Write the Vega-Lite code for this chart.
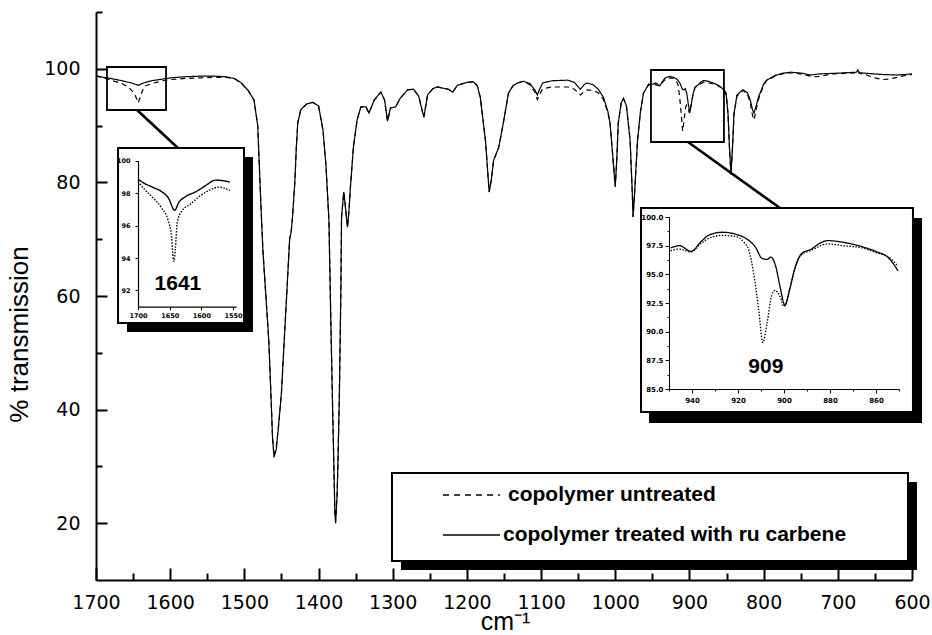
{
"$schema": "https://vega.github.io/schema/vega-lite/v6.json",
"width": 816, "height": 568,
"autosize": {"type": "none"},
"padding": {"left": 96, "top": 12, "right": 20, "bottom": 55},
"background": "white",
"config": {
  "view": {"stroke": null},
  "axis": {"domainColor": "black", "tickColor": "black", "labelColor": "black", "titleColor": "black", "grid": false, "labelOverlap": false, "labelFlush": false, "titleFontWeight": "normal"}
},
"datasets": {
"main": [
{"series":"treated","wn":1700,"T":98.7},{"series":"treated","wn":1690,"T":98.5},{"series":"treated","wn":1680,"T":98.3},{"series":"treated","wn":1665,"T":97.9},{"series":"treated","wn":1652,"T":97.5},{"series":"treated","wn":1643,"T":97.1},{"series":"treated","wn":1636,"T":97.5},{"series":"treated","wn":1625,"T":97.9},{"series":"treated","wn":1610,"T":98.2},{"series":"treated","wn":1600,"T":98.4},{"series":"treated","wn":1580,"T":98.6},{"series":"treated","wn":1560,"T":98.7},{"series":"treated","wn":1540,"T":98.7},{"series":"treated","wn":1525,"T":98.6},{"series":"treated","wn":1514,"T":98.3},{"series":"treated","wn":1505,"T":97.6},{"series":"treated","wn":1495,"T":96.2},{"series":"treated","wn":1487,"T":94.5},{"series":"treated","wn":1482,"T":90},{"series":"treated","wn":1478,"T":77},{"series":"treated","wn":1475,"T":68},{"series":"treated","wn":1470,"T":58},{"series":"treated","wn":1467,"T":52},{"series":"treated","wn":1464,"T":42},{"series":"treated","wn":1462,"T":35},{"series":"treated","wn":1460,"T":31.6},{"series":"treated","wn":1457,"T":33},{"series":"treated","wn":1454,"T":37},{"series":"treated","wn":1450,"T":43},{"series":"treated","wn":1447,"T":50.4},{"series":"treated","wn":1443,"T":60},{"series":"treated","wn":1441,"T":65},{"series":"treated","wn":1439,"T":70},{"series":"treated","wn":1437,"T":71.2},{"series":"treated","wn":1435,"T":74},{"series":"treated","wn":1432,"T":80},{"series":"treated","wn":1430,"T":86},{"series":"treated","wn":1428,"T":90.5},{"series":"treated","wn":1424,"T":92.8},{"series":"treated","wn":1416,"T":93.8},{"series":"treated","wn":1408,"T":94.1},{"series":"treated","wn":1400,"T":93.5},{"series":"treated","wn":1394,"T":89.2},{"series":"treated","wn":1390,"T":83},{"series":"treated","wn":1386,"T":73.3},{"series":"treated","wn":1384,"T":59.3},{"series":"treated","wn":1381,"T":40},{"series":"treated","wn":1378,"T":22},{"series":"treated","wn":1377,"T":20},{"series":"treated","wn":1375,"T":25},{"series":"treated","wn":1374,"T":29.8},{"series":"treated","wn":1372,"T":42},{"series":"treated","wn":1370,"T":60},{"series":"treated","wn":1369,"T":73.9},{"series":"treated","wn":1366,"T":78.3},{"series":"treated","wn":1364,"T":76},{"series":"treated","wn":1361,"T":72.1},{"series":"treated","wn":1359,"T":75},{"series":"treated","wn":1357,"T":79.2},{"series":"treated","wn":1353,"T":86.2},{"series":"treated","wn":1348,"T":91},{"series":"treated","wn":1343,"T":93.3},{"series":"treated","wn":1336,"T":93.3},{"series":"treated","wn":1332,"T":92.2},{"series":"treated","wn":1325,"T":94.5},{"series":"treated","wn":1316,"T":95.9},{"series":"treated","wn":1311,"T":94.5},{"series":"treated","wn":1307,"T":90.8},{"series":"treated","wn":1303,"T":93.1},{"series":"treated","wn":1296,"T":93.3},{"series":"treated","wn":1290,"T":94.8},{"series":"treated","wn":1280,"T":96.3},{"series":"treated","wn":1272,"T":96.4},{"series":"treated","wn":1265,"T":95.2},{"series":"treated","wn":1261,"T":93},{"series":"treated","wn":1258,"T":91.5},{"series":"treated","wn":1253,"T":95.4},{"series":"treated","wn":1246,"T":96.5},{"series":"treated","wn":1240,"T":96.8},{"series":"treated","wn":1225,"T":96.4},{"series":"treated","wn":1219,"T":95.9},{"series":"treated","wn":1213,"T":97.1},{"series":"treated","wn":1200,"T":97.6},{"series":"treated","wn":1191,"T":97.7},{"series":"treated","wn":1186,"T":97},{"series":"treated","wn":1182,"T":95},{"series":"treated","wn":1175,"T":87.4},{"series":"treated","wn":1172,"T":82},{"series":"treated","wn":1170,"T":78.3},{"series":"treated","wn":1167,"T":80.5},{"series":"treated","wn":1164,"T":83.9},{"series":"treated","wn":1157,"T":86.2},{"series":"treated","wn":1151,"T":90.4},{"series":"treated","wn":1144,"T":95.7},{"series":"treated","wn":1138,"T":97},{"series":"treated","wn":1132,"T":97.5},{"series":"treated","wn":1124,"T":97.8},{"series":"treated","wn":1115,"T":97.4},{"series":"treated","wn":1108,"T":96.2},{"series":"treated","wn":1105,"T":95.4},{"series":"treated","wn":1102,"T":96.4},{"series":"treated","wn":1098,"T":97.5},{"series":"treated","wn":1085,"T":97.9},{"series":"treated","wn":1064,"T":98},{"series":"treated","wn":1055,"T":97.6},{"series":"treated","wn":1047,"T":96.4},{"series":"treated","wn":1042,"T":97.2},{"series":"treated","wn":1038,"T":97.5},{"series":"treated","wn":1030,"T":97.2},{"series":"treated","wn":1023,"T":96.4},{"series":"treated","wn":1016,"T":95},{"series":"treated","wn":1010,"T":92.5},{"series":"treated","wn":1007,"T":90.4},{"series":"treated","wn":1003,"T":84},{"series":"treated","wn":1000,"T":79.2},{"series":"treated","wn":998,"T":84},{"series":"treated","wn":996,"T":90.4},{"series":"treated","wn":992,"T":94},{"series":"treated","wn":989,"T":94.8},{"series":"treated","wn":985,"T":93.5},{"series":"treated","wn":980,"T":87.4},{"series":"treated","wn":977,"T":78},{"series":"treated","wn":976,"T":73.9},{"series":"treated","wn":974,"T":78},{"series":"treated","wn":970,"T":87.4},{"series":"treated","wn":966,"T":92.5},{"series":"treated","wn":962,"T":95.7},{"series":"treated","wn":955,"T":97.3},{"series":"treated","wn":949,"T":97.3},{"series":"treated","wn":945.5,"T":97.5},{"series":"treated","wn":940,"T":97},{"series":"treated","wn":936,"T":97.85},{"series":"treated","wn":932.6,"T":98.43},{"series":"treated","wn":926.8,"T":98.67},{"series":"treated","wn":921,"T":98.5},{"series":"treated","wn":916,"T":98.06},{"series":"treated","wn":912.5,"T":97.4},{"series":"treated","wn":909.6,"T":96.4},{"series":"treated","wn":907.4,"T":96.3},{"series":"treated","wn":905.7,"T":96.5},{"series":"treated","wn":903.6,"T":95.7},{"series":"treated","wn":901.7,"T":93.9},{"series":"treated","wn":899.6,"T":92.3},{"series":"treated","wn":897.4,"T":93.8},{"series":"treated","wn":895.3,"T":95.5},{"series":"treated","wn":892.4,"T":96.8},{"series":"treated","wn":888,"T":97.2},{"series":"treated","wn":884.5,"T":97.7},{"series":"treated","wn":881,"T":97.94},{"series":"treated","wn":874.5,"T":97.8},{"series":"treated","wn":866,"T":97.4},{"series":"treated","wn":860,"T":97},{"series":"treated","wn":854.4,"T":96.4},{"series":"treated","wn":850.4,"T":95.3},{"series":"treated","wn":848,"T":92},{"series":"treated","wn":846,"T":86},{"series":"treated","wn":844,"T":81.6},{"series":"treated","wn":842,"T":86},{"series":"treated","wn":840,"T":92},{"series":"treated","wn":836,"T":95.4},{"series":"treated","wn":828,"T":96.3},{"series":"treated","wn":822,"T":95.8},{"series":"treated","wn":818,"T":94.5},{"series":"treated","wn":815,"T":92.8},{"series":"treated","wn":813,"T":92.2},{"series":"treated","wn":810,"T":93.5},{"series":"treated","wn":807,"T":95},{"series":"treated","wn":800,"T":97.3},{"series":"treated","wn":796,"T":98},{"series":"treated","wn":785,"T":98.8},{"series":"treated","wn":775,"T":99.2},{"series":"treated","wn":764,"T":99.4},{"series":"treated","wn":755,"T":99.3},{"series":"treated","wn":747,"T":99.2},{"series":"treated","wn":737,"T":98.9},{"series":"treated","wn":725,"T":99.1},{"series":"treated","wn":706,"T":99.2},{"series":"treated","wn":690,"T":99.3},{"series":"treated","wn":675,"T":99.4},{"series":"treated","wn":673,"T":99.8},{"series":"treated","wn":671,"T":99.3},{"series":"treated","wn":661,"T":99.2},{"series":"treated","wn":640,"T":99},{"series":"treated","wn":620,"T":98.9},{"series":"treated","wn":600,"T":99.1},
{"series":"untreated","wn":1700,"T":98.8},{"series":"untreated","wn":1690,"T":98.4},{"series":"untreated","wn":1680,"T":98},{"series":"untreated","wn":1665,"T":97.4},{"series":"untreated","wn":1655,"T":96.6},{"series":"untreated","wn":1648,"T":95.6},{"series":"untreated","wn":1643,"T":94},{"series":"untreated","wn":1639,"T":95.6},{"series":"untreated","wn":1635,"T":96.9},{"series":"untreated","wn":1625,"T":97.4},{"series":"untreated","wn":1610,"T":97.9},{"series":"untreated","wn":1600,"T":98.1},{"series":"untreated","wn":1580,"T":98.3},{"series":"untreated","wn":1560,"T":98.4},{"series":"untreated","wn":1540,"T":98.5},{"series":"untreated","wn":1525,"T":98.5},{"series":"untreated","wn":1514,"T":98.3},{"series":"untreated","wn":1505,"T":97.6},{"series":"untreated","wn":1495,"T":96.2},{"series":"untreated","wn":1487,"T":94.5},{"series":"untreated","wn":1482,"T":90},{"series":"untreated","wn":1478,"T":77},{"series":"untreated","wn":1475,"T":68},{"series":"untreated","wn":1470,"T":58},{"series":"untreated","wn":1467,"T":52},{"series":"untreated","wn":1464,"T":42},{"series":"untreated","wn":1462,"T":35},{"series":"untreated","wn":1460,"T":31.8},{"series":"untreated","wn":1457,"T":33.5},{"series":"untreated","wn":1454,"T":37},{"series":"untreated","wn":1450,"T":43},{"series":"untreated","wn":1447,"T":50.4},{"series":"untreated","wn":1443,"T":60},{"series":"untreated","wn":1441,"T":65},{"series":"untreated","wn":1439,"T":70},{"series":"untreated","wn":1437,"T":71.2},{"series":"untreated","wn":1435,"T":74},{"series":"untreated","wn":1432,"T":80},{"series":"untreated","wn":1430,"T":86},{"series":"untreated","wn":1428,"T":90.5},{"series":"untreated","wn":1424,"T":92.8},{"series":"untreated","wn":1416,"T":93.8},{"series":"untreated","wn":1408,"T":94.1},{"series":"untreated","wn":1400,"T":93.5},{"series":"untreated","wn":1394,"T":89.2},{"series":"untreated","wn":1390,"T":83},{"series":"untreated","wn":1386,"T":73.3},{"series":"untreated","wn":1384,"T":59.3},{"series":"untreated","wn":1381,"T":40},{"series":"untreated","wn":1378,"T":22},{"series":"untreated","wn":1377,"T":20.3},{"series":"untreated","wn":1375,"T":25},{"series":"untreated","wn":1374,"T":29.8},{"series":"untreated","wn":1372,"T":42},{"series":"untreated","wn":1370,"T":60},{"series":"untreated","wn":1369,"T":73.9},{"series":"untreated","wn":1366,"T":78.3},{"series":"untreated","wn":1364,"T":76},{"series":"untreated","wn":1361,"T":72.1},{"series":"untreated","wn":1359,"T":75},{"series":"untreated","wn":1357,"T":79.2},{"series":"untreated","wn":1353,"T":86.2},{"series":"untreated","wn":1348,"T":91},{"series":"untreated","wn":1343,"T":93.3},{"series":"untreated","wn":1336,"T":93.3},{"series":"untreated","wn":1332,"T":92.2},{"series":"untreated","wn":1325,"T":94.5},{"series":"untreated","wn":1316,"T":95.9},{"series":"untreated","wn":1311,"T":94.5},{"series":"untreated","wn":1307,"T":90.8},{"series":"untreated","wn":1303,"T":93.1},{"series":"untreated","wn":1296,"T":93.3},{"series":"untreated","wn":1290,"T":94.8},{"series":"untreated","wn":1280,"T":96.3},{"series":"untreated","wn":1272,"T":96.4},{"series":"untreated","wn":1265,"T":95.2},{"series":"untreated","wn":1261,"T":93},{"series":"untreated","wn":1258,"T":91.5},{"series":"untreated","wn":1253,"T":95.4},{"series":"untreated","wn":1246,"T":96.5},{"series":"untreated","wn":1240,"T":96.8},{"series":"untreated","wn":1225,"T":96.4},{"series":"untreated","wn":1219,"T":95.9},{"series":"untreated","wn":1213,"T":97.1},{"series":"untreated","wn":1200,"T":97.6},{"series":"untreated","wn":1191,"T":97.7},{"series":"untreated","wn":1186,"T":97},{"series":"untreated","wn":1182,"T":95},{"series":"untreated","wn":1175,"T":87.4},{"series":"untreated","wn":1172,"T":82},{"series":"untreated","wn":1170,"T":78.3},{"series":"untreated","wn":1167,"T":80.5},{"series":"untreated","wn":1164,"T":83.9},{"series":"untreated","wn":1157,"T":86.2},{"series":"untreated","wn":1151,"T":90.4},{"series":"untreated","wn":1144,"T":95.7},{"series":"untreated","wn":1138,"T":97},{"series":"untreated","wn":1132,"T":97.5},{"series":"untreated","wn":1124,"T":97.8},{"series":"untreated","wn":1115,"T":97.2},{"series":"untreated","wn":1108,"T":95.8},{"series":"untreated","wn":1105,"T":94.6},{"series":"untreated","wn":1102,"T":95.5},{"series":"untreated","wn":1098,"T":96.5},{"series":"untreated","wn":1085,"T":96.8},{"series":"untreated","wn":1064,"T":96.8},{"series":"untreated","wn":1055,"T":96.4},{"series":"untreated","wn":1047,"T":95.4},{"series":"untreated","wn":1042,"T":96},{"series":"untreated","wn":1038,"T":96.3},{"series":"untreated","wn":1030,"T":96.2},{"series":"untreated","wn":1023,"T":95.8},{"series":"untreated","wn":1016,"T":94.6},{"series":"untreated","wn":1010,"T":92.3},{"series":"untreated","wn":1007,"T":90.4},{"series":"untreated","wn":1003,"T":84},{"series":"untreated","wn":1000,"T":79.2},{"series":"untreated","wn":998,"T":84},{"series":"untreated","wn":996,"T":90.4},{"series":"untreated","wn":992,"T":94},{"series":"untreated","wn":989,"T":94.8},{"series":"untreated","wn":985,"T":93.5},{"series":"untreated","wn":980,"T":87.4},{"series":"untreated","wn":977,"T":78},{"series":"untreated","wn":976,"T":73.9},{"series":"untreated","wn":974,"T":78},{"series":"untreated","wn":970,"T":87.4},{"series":"untreated","wn":966,"T":92.5},{"series":"untreated","wn":962,"T":95.7},{"series":"untreated","wn":955,"T":97.2},{"series":"untreated","wn":949,"T":97.05},{"series":"untreated","wn":945.5,"T":97.2},{"series":"untreated","wn":940,"T":96.95},{"series":"untreated","wn":936,"T":97.7},{"series":"untreated","wn":932,"T":98.2},{"series":"untreated","wn":926.8,"T":98.4},{"series":"untreated","wn":921,"T":98.3},{"series":"untreated","wn":917.4,"T":97.8},{"series":"untreated","wn":915.3,"T":97.1},{"series":"untreated","wn":913.2,"T":95.1},{"series":"untreated","wn":911,"T":91.9},{"series":"untreated","wn":909.2,"T":89.05},{"series":"untreated","wn":907.4,"T":90.7},{"series":"untreated","wn":905.3,"T":93.2},{"series":"untreated","wn":903.9,"T":93.6},{"series":"untreated","wn":901.7,"T":93.06},{"series":"untreated","wn":900,"T":92.2},{"series":"untreated","wn":897.4,"T":93.8},{"series":"untreated","wn":895.3,"T":95.5},{"series":"untreated","wn":892.4,"T":96.7},{"series":"untreated","wn":888,"T":97.1},{"series":"untreated","wn":881,"T":97.65},{"series":"untreated","wn":874.5,"T":97.5},{"series":"untreated","wn":866,"T":97.3},{"series":"untreated","wn":860,"T":96.9},{"series":"untreated","wn":854.4,"T":96.5},{"series":"untreated","wn":850.4,"T":95.7},{"series":"untreated","wn":848,"T":92},{"series":"untreated","wn":846,"T":86},{"series":"untreated","wn":844,"T":81.3},{"series":"untreated","wn":842,"T":86},{"series":"untreated","wn":840,"T":92},{"series":"untreated","wn":836,"T":95.2},{"series":"untreated","wn":828,"T":96.2},{"series":"untreated","wn":822,"T":95.6},{"series":"untreated","wn":818,"T":94},{"series":"untreated","wn":815,"T":91.8},{"series":"untreated","wn":813,"T":91},{"series":"untreated","wn":810,"T":92.8},{"series":"untreated","wn":807,"T":94.6},{"series":"untreated","wn":800,"T":97.1},{"series":"untreated","wn":796,"T":97.9},{"series":"untreated","wn":785,"T":98.7},{"series":"untreated","wn":775,"T":99.1},{"series":"untreated","wn":764,"T":99.3},{"series":"untreated","wn":755,"T":99.2},{"series":"untreated","wn":747,"T":99},{"series":"untreated","wn":737,"T":98.7},{"series":"untreated","wn":728,"T":98.6},{"series":"untreated","wn":715,"T":98.9},{"series":"untreated","wn":706,"T":99.1},{"series":"untreated","wn":690,"T":99.2},{"series":"untreated","wn":675,"T":99.3},{"series":"untreated","wn":673,"T":99.6},{"series":"untreated","wn":671,"T":99.2},{"series":"untreated","wn":661,"T":98.9},{"series":"untreated","wn":650,"T":98.4},{"series":"untreated","wn":640,"T":98.1},{"series":"untreated","wn":630,"T":98.2},{"series":"untreated","wn":620,"T":98.5},{"series":"untreated","wn":610,"T":98.8},{"series":"untreated","wn":600,"T":99}
],
"inset1": [
{"series":"treated","wn":1700,"T":98.86},{"series":"treated","wn":1692,"T":98.65},{"series":"treated","wn":1676,"T":98.35},{"series":"treated","wn":1663,"T":98.1},{"series":"treated","wn":1652,"T":97.7},{"series":"treated","wn":1642,"T":96.94},{"series":"treated","wn":1636,"T":97.4},{"series":"treated","wn":1626,"T":97.76},{"series":"treated","wn":1608,"T":98.1},{"series":"treated","wn":1592,"T":98.5},{"series":"treated","wn":1578,"T":98.8},{"series":"treated","wn":1568,"T":98.78},{"series":"treated","wn":1555,"T":98.68},
{"series":"untreated","wn":1700,"T":98.72},{"series":"untreated","wn":1689,"T":98.2},{"series":"untreated","wn":1676,"T":97.7},{"series":"untreated","wn":1663,"T":97.1},{"series":"untreated","wn":1652,"T":96.27},{"series":"untreated","wn":1647,"T":95.3},{"series":"untreated","wn":1644.5,"T":94},{"series":"untreated","wn":1643,"T":93.8},{"series":"untreated","wn":1641,"T":94.6},{"series":"untreated","wn":1638,"T":96.2},{"series":"untreated","wn":1631,"T":96.9},{"series":"untreated","wn":1618,"T":97.3},{"series":"untreated","wn":1603,"T":97.8},{"series":"untreated","wn":1586,"T":98.2},{"series":"untreated","wn":1573,"T":98.37},{"series":"untreated","wn":1563,"T":98.3},{"series":"untreated","wn":1555,"T":98.16}
],
"inset2": [
{"series":"treated","wn":949.3,"T":97.3},{"series":"treated","wn":945.5,"T":97.5},{"series":"treated","wn":940.4,"T":97.0},{"series":"treated","wn":936.1,"T":97.85},{"series":"treated","wn":932.6,"T":98.43},{"series":"treated","wn":926.8,"T":98.67},{"series":"treated","wn":921.1,"T":98.5},{"series":"treated","wn":916,"T":98.06},{"series":"treated","wn":912.5,"T":97.4},{"series":"treated","wn":909.6,"T":96.4},{"series":"treated","wn":907.4,"T":96.3},{"series":"treated","wn":905.7,"T":96.5},{"series":"treated","wn":903.6,"T":95.7},{"series":"treated","wn":901.7,"T":93.9},{"series":"treated","wn":899.6,"T":92.3},{"series":"treated","wn":897.4,"T":93.8},{"series":"treated","wn":895.3,"T":95.5},{"series":"treated","wn":892.4,"T":96.8},{"series":"treated","wn":888.1,"T":97.2},{"series":"treated","wn":884.5,"T":97.7},{"series":"treated","wn":881,"T":97.94},{"series":"treated","wn":874.5,"T":97.8},{"series":"treated","wn":865.9,"T":97.4},{"series":"treated","wn":860.1,"T":97.0},{"series":"treated","wn":854.4,"T":96.4},{"series":"treated","wn":850.4,"T":95.3},
{"series":"untreated","wn":949.3,"T":97.05},{"series":"untreated","wn":945.5,"T":97.2},{"series":"untreated","wn":940.4,"T":96.95},{"series":"untreated","wn":936.1,"T":97.7},{"series":"untreated","wn":932,"T":98.2},{"series":"untreated","wn":926.8,"T":98.4},{"series":"untreated","wn":921.1,"T":98.3},{"series":"untreated","wn":917.4,"T":97.8},{"series":"untreated","wn":915.3,"T":97.1},{"series":"untreated","wn":913.2,"T":95.1},{"series":"untreated","wn":911,"T":91.9},{"series":"untreated","wn":909.2,"T":89.05},{"series":"untreated","wn":907.4,"T":90.7},{"series":"untreated","wn":905.3,"T":93.2},{"series":"untreated","wn":903.9,"T":93.6},{"series":"untreated","wn":901.7,"T":93.06},{"series":"untreated","wn":900,"T":92.2},{"series":"untreated","wn":897.4,"T":93.8},{"series":"untreated","wn":895.3,"T":95.5},{"series":"untreated","wn":892.4,"T":96.7},{"series":"untreated","wn":888.1,"T":97.1},{"series":"untreated","wn":881,"T":97.65},{"series":"untreated","wn":874.5,"T":97.5},{"series":"untreated","wn":865.9,"T":97.3},{"series":"untreated","wn":860.1,"T":96.9},{"series":"untreated","wn":854.4,"T":96.5},{"series":"untreated","wn":850.4,"T":95.7}
]
},
"layer": [
  {"data": {"name": "main"},
   "mark": {"type": "line", "color": "black", "strokeWidth": 1.2},
   "encoding": {
    "x": {"field": "wn", "type": "quantitative",
     "scale": {"domain": [600, 1700], "reverse": true, "nice": false, "zero": false},
     "axis": {"orient": "bottom", "title": "cm⁻¹", "values": [1700,1600,1500,1400,1300,1200,1100,1000,900,800,700,600],
      "format": "d", "tickSize": -12,
      "labelPadding": 25, "labelFont": "DejaVu Sans", "labelFontSize": 19, "domainWidth": 2, "tickWidth": 2,
      "titleFont": "Liberation Sans", "titleFontSize": 25, "titleX": 409, "titleY": 49, "titleAlign": "center", "titleBaseline": "alphabetic"}},
    "y": {"field": "T", "type": "quantitative",
     "scale": {"domain": [10, 110], "nice": false, "zero": false},
     "axis": {"orient": "left", "title": "% transmission", "values": [20,40,60,80,100],
      "format": "d", "tickSize": -11,
      "labelPadding": 27, "labelFont": "DejaVu Sans", "labelFontSize": 19, "domainWidth": 2, "tickWidth": 2,
      "titleFont": "Liberation Sans", "titleFontSize": 26, "titleX": -69, "titleY": 322, "titleAlign": "center", "titleBaseline": "alphabetic", "titleAngle": -90}},
    "strokeDash": {"field": "series", "type": "nominal", "scale": {"domain": ["untreated", "treated"], "range": [[5, 4], [1, 0]]}, "legend": null}
   }},
  {"data": {"values": [{}]}, "mark": {"type": "rect", "fill": null, "stroke": "black", "strokeWidth": 1.8},
   "encoding": {
    "x": {"datum": 1685.2, "type": "quantitative", "scale": {"domain": [600, 1700], "reverse": true, "nice": false, "zero": false},
     "axis": {"orient": "bottom", "title": null, "values": [1650,1550,1450,1350,1250,1150,1050,950,850,750,650], "labels": false, "domain": false, "tickSize": -7, "tickWidth": 2}},
    "x2": {"datum": 1605.6},
    "y": {"datum": 100.32, "type": "quantitative", "scale": {"domain": [10, 110], "nice": false, "zero": false},
     "axis": {"orient": "left", "title": null, "values": [30,50,70,90,110], "labels": false, "domain": false, "tickSize": -6, "tickWidth": 2}},
    "y2": {"datum": 92.75}}},
  {"data": {"values": [{}]}, "mark": {"type": "rect", "fill": null, "stroke": "black", "strokeWidth": 1.8},
   "encoding": {"x": {"datum": 951.9, "type": "quantitative", "scale": {"domain": [600, 1700], "reverse": true, "nice": false, "zero": false}, "axis": null}, "x2": {"datum": 853.5},
    "y": {"datum": 99.79, "type": "quantitative", "scale": {"domain": [10, 110], "nice": false, "zero": false}, "axis": null}, "y2": {"datum": 87.11}}},
  {"data": {"values": [{}]}, "mark": {"type": "rule", "color": "black", "strokeWidth": 2.6},
   "encoding": {"x": {"datum": 1644.7, "type": "quantitative", "scale": {"domain": [600, 1700], "reverse": true, "nice": false, "zero": false}, "axis": null}, "x2": {"datum": 1589.5},
    "y": {"datum": 92.75, "type": "quantitative", "scale": {"domain": [10, 110], "nice": false, "zero": false}, "axis": null}, "y2": {"datum": 86.06}}},
  {"data": {"values": [{}]}, "mark": {"type": "rule", "color": "black", "strokeWidth": 2.6},
   "encoding": {"x": {"datum": 902, "type": "quantitative", "scale": {"domain": [600, 1700], "reverse": true, "nice": false, "zero": false}, "axis": null}, "x2": {"datum": 778},
    "y": {"datum": 87.11, "type": "quantitative", "scale": {"domain": [10, 110], "nice": false, "zero": false}, "axis": null}, "y2": {"datum": 75.49}}},
  {"data": {"values": [{}]}, "mark": {"type": "rect", "fill": "black"},
   "encoding": {"x": {"datum": 1658.2, "type": "quantitative", "scale": {"domain": [600, 1700], "reverse": true, "nice": false, "zero": false}, "axis": null}, "x2": {"datum": 1488.4},
    "y": {"datum": 84.47, "type": "quantitative", "scale": {"domain": [10, 110], "nice": false, "zero": false}, "axis": null}, "y2": {"datum": 53.66}}},
  {"data": {"values": [{}]}, "mark": {"type": "rect", "fill": "white", "stroke": "black", "strokeWidth": 2},
   "encoding": {"x": {"datum": 1670.3, "type": "quantitative", "scale": {"domain": [600, 1700], "reverse": true, "nice": false, "zero": false}, "axis": null}, "x2": {"datum": 1500.5},
    "y": {"datum": 86.06, "type": "quantitative", "scale": {"domain": [10, 110], "nice": false, "zero": false}, "axis": null}, "y2": {"datum": 55.25}}},
  {"data": {"values": [{}]}, "mark": {"type": "rect", "fill": "black"},
   "encoding": {"x": {"datum": 954.5, "type": "quantitative", "scale": {"domain": [600, 1700], "reverse": true, "nice": false, "zero": false}, "axis": null}, "x2": {"datum": 586.5},
    "y": {"datum": 73.73, "type": "quantitative", "scale": {"domain": [10, 110], "nice": false, "zero": false}, "axis": null}, "y2": {"datum": 37.64}}},
  {"data": {"values": [{}]}, "mark": {"type": "rect", "fill": "white", "stroke": "black", "strokeWidth": 2},
   "encoding": {"x": {"datum": 965.3, "type": "quantitative", "scale": {"domain": [600, 1700], "reverse": true, "nice": false, "zero": false}, "axis": null}, "x2": {"datum": 598.7},
    "y": {"datum": 75.49, "type": "quantitative", "scale": {"domain": [10, 110], "nice": false, "zero": false}, "axis": null}, "y2": {"datum": 39.58}}},
  {"data": {"values": [{}]}, "mark": {"type": "rect", "fill": "black"},
   "encoding": {"x": {"datum": 1288.9, "type": "quantitative", "scale": {"domain": [600, 1700], "reverse": true, "nice": false, "zero": false}, "axis": null}, "x2": {"datum": 593.3},
    "y": {"datum": 27.25, "type": "quantitative", "scale": {"domain": [10, 110], "nice": false, "zero": false}, "axis": null}, "y2": {"datum": 11.76}}},
  {"data": {"values": [{}]}, "mark": {"type": "rect", "fill": "white", "stroke": "black", "strokeWidth": 2},
   "encoding": {"x": {"datum": 1301, "type": "quantitative", "scale": {"domain": [600, 1700], "reverse": true, "nice": false, "zero": false}, "axis": null}, "x2": {"datum": 605.4},
    "y": {"datum": 28.84, "type": "quantitative", "scale": {"domain": [10, 110], "nice": false, "zero": false}, "axis": null}, "y2": {"datum": 13.35}}},
  {"data": {"values": [{}]}, "mark": {"type": "rule", "color": "black", "strokeWidth": 1.5, "strokeDash": [6, 5]},
   "encoding": {"x": {"datum": 1232.2, "type": "quantitative", "scale": {"domain": [600, 1700], "reverse": true, "nice": false, "zero": false}, "axis": null}, "x2": {"datum": 1155.4},
    "y": {"datum": 24.96, "type": "quantitative", "scale": {"domain": [10, 110], "nice": false, "zero": false}, "axis": null}}},
  {"data": {"values": [{}]}, "mark": {"type": "rule", "color": "black", "strokeWidth": 1.5},
   "encoding": {"x": {"datum": 1232.2, "type": "quantitative", "scale": {"domain": [600, 1700], "reverse": true, "nice": false, "zero": false}, "axis": null}, "x2": {"datum": 1155.4},
    "y": {"datum": 17.92, "type": "quantitative", "scale": {"domain": [10, 110], "nice": false, "zero": false}, "axis": null}}},
  {"data": {"values": [{}]}, "mark": {"type": "text", "align": "left", "baseline": "middle", "font": "Liberation Sans", "fontSize": 21, "fontWeight": "bold", "color": "black"},
   "encoding": {"x": {"datum": 1144.6, "type": "quantitative", "scale": {"domain": [600, 1700], "reverse": true, "nice": false, "zero": false}, "axis": null},
    "y": {"datum": 24.96, "type": "quantitative", "scale": {"domain": [10, 110], "nice": false, "zero": false}, "axis": null}, "text": {"value": "copolymer untreated"}}},
  {"data": {"values": [{}]}, "mark": {"type": "text", "align": "left", "baseline": "middle", "font": "Liberation Sans", "fontSize": 21, "fontWeight": "bold", "color": "black"},
   "encoding": {"x": {"datum": 1151.4, "type": "quantitative", "scale": {"domain": [600, 1700], "reverse": true, "nice": false, "zero": false}, "axis": null},
    "y": {"datum": 17.92, "type": "quantitative", "scale": {"domain": [10, 110], "nice": false, "zero": false}, "axis": null}, "text": {"value": "copolymer treated with ru carbene"}}},
  {"data": {"name": "inset1"},
   "mark": {"type": "line", "color": "black", "strokeWidth": 1.4, "interpolate": "monotone"},
   "encoding": {
    "x": {"field": "wn", "type": "quantitative",
     "scale": {"domain": [1545, 1700], "reverse": true, "range": [42, 140.2], "nice": false, "zero": false},
     "axis": {"orient": "bottom", "offset": -273.3, "title": null, "values": [1700, 1650, 1600, 1550], "format": "d",
      "tickSize": 3, "labelPadding": 3, "labelFont": "DejaVu Sans", "labelFontSize": 6.5, "labelFontWeight": "bold", "domainWidth": 1.2, "tickWidth": 1, "zindex": 1}},
    "y": {"field": "T", "type": "quantitative",
     "scale": {"domain": [91, 100], "range": [294.7, 148.7], "nice": false, "zero": false},
     "axis": {"orient": "left", "offset": -42, "title": null, "values": [92, 94, 96, 98, 100], "format": "d",
      "tickSize": 3, "labelPadding": 5, "labelFont": "DejaVu Sans", "labelFontSize": 6.5, "labelFontWeight": "bold", "domainWidth": 1.2, "tickWidth": 1, "zindex": 1}},
    "strokeDash": {"field": "series", "type": "nominal", "scale": {"domain": ["untreated", "treated"], "range": [[1.5, 1.5], [1, 0]]}, "legend": null},
    "strokeWidth": {"field": "series", "type": "nominal", "scale": {"domain": ["untreated", "treated"], "range": [1, 1.4]}, "legend": null}
   }},
  {"data": {"values": [{}]}, "mark": {"type": "text", "align": "center", "baseline": "middle", "font": "Liberation Sans", "fontSize": 21, "fontWeight": "bold", "color": "black"},
   "encoding": {"x": {"datum": 1637, "type": "quantitative", "scale": {"domain": [1545, 1700], "reverse": true, "range": [42, 140.2], "nice": false, "zero": false}, "axis": null},
    "y": {"datum": 92.4, "type": "quantitative", "scale": {"domain": [91, 100], "range": [294.7, 148.7], "nice": false, "zero": false}, "axis": null}, "text": {"value": "1641"}}},
  {"data": {"name": "inset2"},
   "mark": {"type": "line", "color": "black", "strokeWidth": 1.3, "interpolate": "monotone"},
   "encoding": {
    "x": {"field": "wn", "type": "quantitative",
     "scale": {"domain": [850, 950], "reverse": true, "range": [573, 803], "nice": false, "zero": false},
     "axis": {"orient": "bottom", "offset": -191, "title": null, "values": [940, 920, 900, 880, 860], "format": "d",
      "tickSize": 4, "labelPadding": 3, "labelFont": "DejaVu Sans", "labelFontSize": 7, "labelFontWeight": "bold", "domainWidth": 1, "tickWidth": 1, "zindex": 1}},
    "y": {"field": "T", "type": "quantitative",
     "scale": {"domain": [85, 100], "range": [377, 205], "nice": false, "zero": false},
     "axis": {"orient": "left", "offset": -573, "title": null, "values": [85, 87.5, 90, 92.5, 95, 97.5, 100], "format": ".1f",
      "tickSize": 4, "labelPadding": 2, "labelFont": "DejaVu Sans", "labelFontSize": 7, "labelFontWeight": "bold", "domainWidth": 1, "tickWidth": 1, "zindex": 1}},
    "strokeDash": {"field": "series", "type": "nominal", "scale": {"domain": ["untreated", "treated"], "range": [[1.5, 1.5], [1, 0]]}, "legend": null},
    "strokeWidth": {"field": "series", "type": "nominal", "scale": {"domain": ["untreated", "treated"], "range": [1, 1.3]}, "legend": null}
   }},
  {"data": {"values": [{}]}, "mark": {"type": "text", "align": "center", "baseline": "middle", "font": "Liberation Sans", "fontSize": 21, "fontWeight": "bold", "color": "black"},
   "encoding": {"x": {"datum": 907.9, "type": "quantitative", "scale": {"domain": [850, 950], "reverse": true, "range": [573, 803], "nice": false, "zero": false},
     "axis": {"orient": "bottom", "offset": -191, "title": null, "values": [950, 930, 910, 890, 870, 850], "labels": false, "domain": false, "tickSize": 2, "tickWidth": 1, "zindex": 1}},
    "y": {"datum": 86.96, "type": "quantitative", "scale": {"domain": [85, 100], "range": [377, 205], "nice": false, "zero": false},
     "axis": {"orient": "left", "offset": -573, "title": null, "values": [86.25, 88.75, 91.25, 93.75, 96.25, 98.75], "labels": false, "domain": false, "tickSize": 2, "tickWidth": 1, "zindex": 1}},
    "text": {"value": "909"}}}
],
"resolve": {"scale": {"x": "independent", "y": "independent", "strokeDash": "independent", "strokeWidth": "independent"}}
}
